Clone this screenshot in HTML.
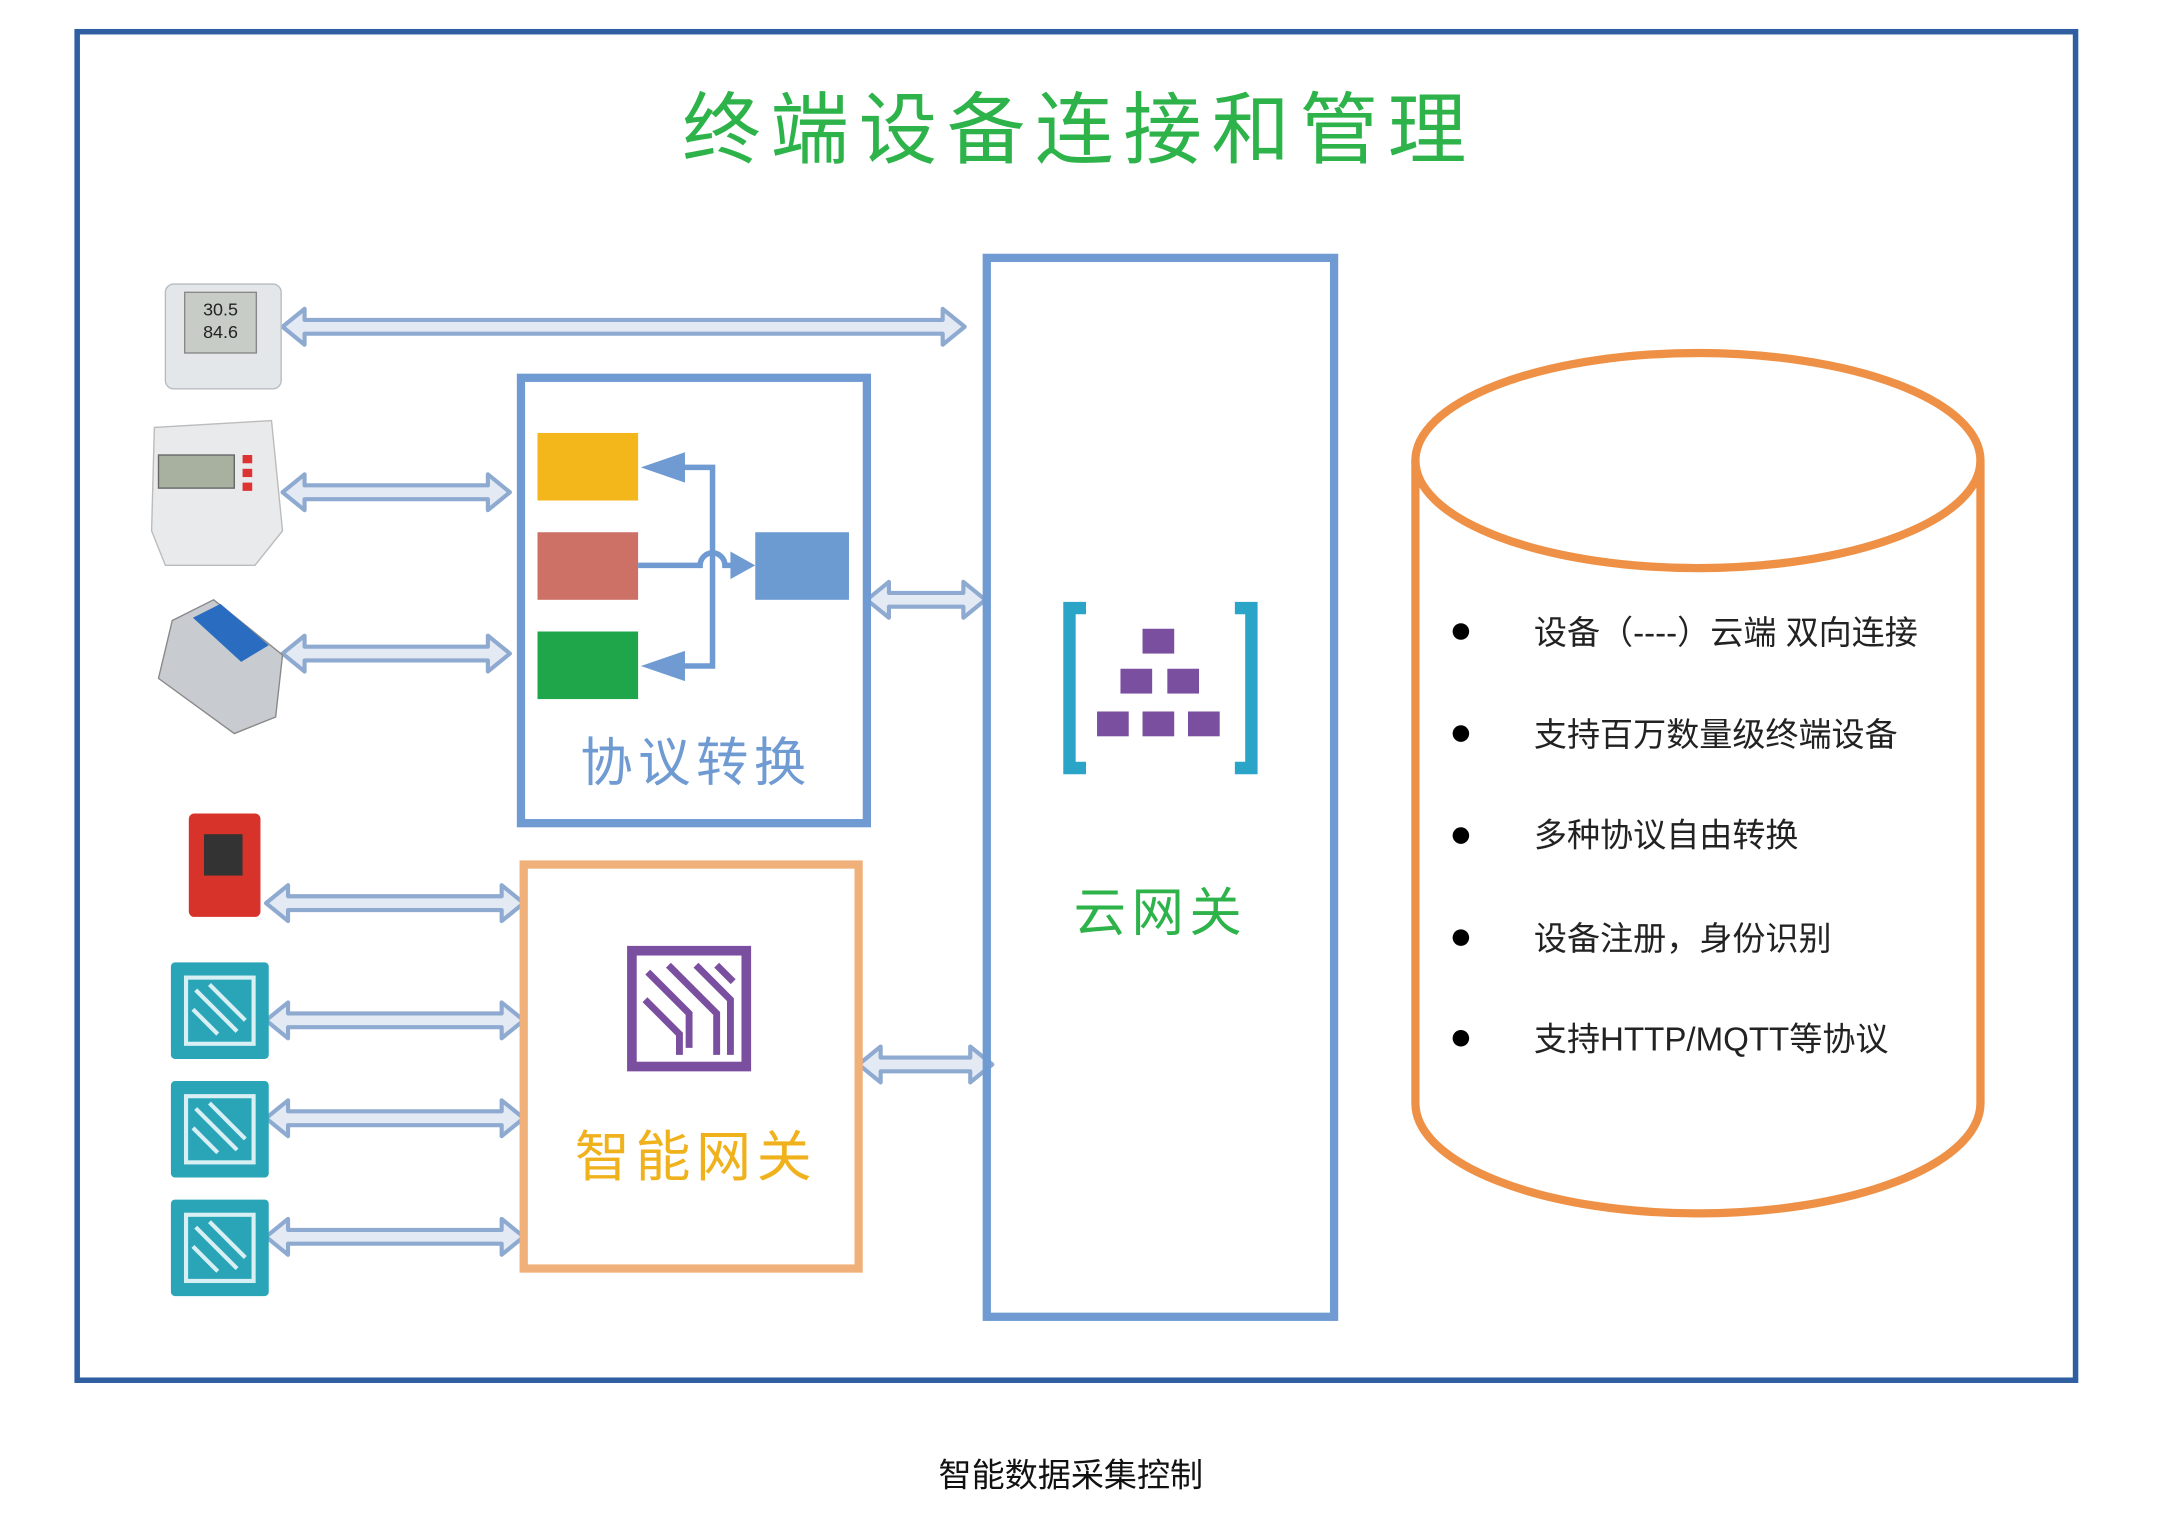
<!DOCTYPE html>
<html><head><meta charset="utf-8"><style>html,body{margin:0;padding:0;background:#fff}svg{display:block}</style></head>
<body>
<svg width="2161" height="1525" viewBox="0 0 1568 1106" preserveAspectRatio="none" xmlns="http://www.w3.org/2000/svg" font-family="Liberation Sans, Noto Sans CJK SC, sans-serif">
<rect x="0" y="0" width="1568" height="1106" fill="#fff"/>
<rect x="56" y="23" width="1450" height="978" fill="none" stroke="#2f5fa0" stroke-width="4"/>
<text x="783" y="114" text-anchor="middle" font-size="57" fill="#2db34a" letter-spacing="7" font-family="Noto Sans CJK SC, sans-serif">终端设备连接和管理</text>

<g fill="#e3eaf4" stroke="#8eaad0" stroke-width="3" stroke-linejoin="round">
<path d="M205,237 l16,-13 v8 h463 v-8 l16,13 l-16,13 v-8 h-463 v8 z"/>
<path d="M205,357 l16,-13 v8 h133 v-8 l16,13 l-16,13 v-8 h-133 v8 z"/>
<path d="M205,474 l16,-13 v8 h133 v-8 l16,13 l-16,13 v-8 h-133 v8 z"/>
<path d="M193,655 l16,-13 v8 h155 v-8 l16,13 l-16,13 v-8 h-155 v8 z"/>
<path d="M193,740 l16,-13 v8 h155 v-8 l16,13 l-16,13 v-8 h-155 v8 z"/>
<path d="M193,811 l16,-13 v8 h155 v-8 l16,13 l-16,13 v-8 h-155 v8 z"/>
<path d="M193,897 l16,-13 v8 h155 v-8 l16,13 l-16,13 v-8 h-155 v8 z"/>
<path d="M629,435 l16,-13 v8 h54 v-8 l16,13 l-16,13 v-8 h-54 v8 z"/>
<path d="M623,772 l16,-13 v8 h65 v-8 l16,13 l-16,13 v-8 h-65 v8 z"/>
</g>

<rect x="716" y="187" width="252" height="768" fill="none" stroke="#6f9bd2" stroke-width="6"/>
<path d="M788,441 h-12 v116 h12" fill="none" stroke="#2aa5c8" stroke-width="9"/>
<path d="M896,441 h12 v116 h-12" fill="none" stroke="#2aa5c8" stroke-width="9"/>
<g fill="#7b4fa0">
<rect x="829" y="456" width="23" height="18"/>
<rect x="813" y="485" width="23" height="18"/><rect x="847" y="485" width="23" height="18"/>
<rect x="796" y="516" width="23" height="18"/><rect x="829" y="516" width="23" height="18"/><rect x="862" y="516" width="23" height="18"/>
</g>
<text x="842" y="675" text-anchor="middle" font-size="38" fill="#2db34a" letter-spacing="4" font-family="Noto Sans CJK SC, sans-serif">云网关</text>

<rect x="378" y="274" width="251" height="323" fill="none" stroke="#6f9bd2" stroke-width="6"/>
<rect x="390" y="314" width="73" height="49" fill="#f3b61b"/>
<rect x="390" y="386" width="73" height="49" fill="#cd7065"/>
<rect x="390" y="458" width="73" height="49" fill="#1fa64a"/>
<rect x="548" y="386" width="68" height="49" fill="#6b9bd1"/>
<g stroke="#6f9bd2" stroke-width="4" fill="none">
<path d="M463,410 H508 a9,9 0 0 1 18,0 H532"/>
<path d="M490,339 H517 V483 H490"/>
</g>
<g fill="#6f9bd2">
<path d="M548,410 l-18,-10 v20 z"/>
<path d="M465,339 l32,-11 v22 z"/>
<path d="M465,483 l32,-11 v22 z"/>
</g>
<text x="505" y="566" text-anchor="middle" font-size="38" fill="#6f9bd2" letter-spacing="4" font-family="Noto Sans CJK SC, sans-serif">协议转换</text>

<rect x="380" y="627" width="243" height="293" fill="none" stroke="#f0b07a" stroke-width="6"/>
<rect x="455" y="686" width="90" height="91" fill="#7b4fa0"/>
<rect x="462" y="693" width="76" height="77" fill="#fff"/>
<g stroke="#7b4fa0" stroke-width="5" fill="none">
<path d="M470,705 l30,30 v25"/><path d="M485,700 l35,35 v30"/><path d="M468,725 l25,25 v15"/><path d="M505,700 l25,25 v40"/><path d="M520,700 l12,12"/>
</g>
<text x="505" y="853" text-anchor="middle" font-size="40" fill="#f0b21c" letter-spacing="4" font-family="Noto Sans CJK SC, sans-serif">智能网关</text>

<path d="M1027,334 V800 A205,80 0 0 0 1437,800 V334" fill="none" stroke="#ee9146" stroke-width="6"/>
<ellipse cx="1232" cy="334" rx="205" ry="78" fill="none" stroke="#ee9146" stroke-width="6"/>
<g font-size="24" fill="#222" font-family="Liberation Sans, Noto Sans CJK SC, sans-serif">
<circle cx="1060" cy="458" r="6" fill="#000"/><text x="1113" y="467">设备（----）云端  双向连接</text>
<circle cx="1060" cy="532" r="6" fill="#000"/><text x="1113" y="541">支持百万数量级终端设备</text>
<circle cx="1060" cy="606" r="6" fill="#000"/><text x="1113" y="614">多种协议自由转换</text>
<circle cx="1060" cy="680" r="6" fill="#000"/><text x="1113" y="689">设备注册，身份识别</text>
<circle cx="1060" cy="753" r="6" fill="#000"/><text x="1113" y="762">支持HTTP/MQTT等协议</text>
</g>

<rect x="120" y="206" width="84" height="76" rx="6" fill="#e4e7ea" stroke="#b8bcc0"/>
<rect x="134" y="212" width="52" height="44" fill="#c7cdc6" stroke="#888"/>
<text x="160" y="229" text-anchor="middle" font-size="13" fill="#222">30.5</text>
<text x="160" y="245" text-anchor="middle" font-size="13" fill="#222">84.6</text>
<path d="M112,310 l85,-5 l8,80 l-20,25 h-65 l-10,-25 z" fill="#e8eaec" stroke="#bbb"/>
<rect x="115" y="330" width="55" height="24" fill="#a8b0a0" stroke="#666"/>
<rect x="176" y="330" width="7" height="6" fill="#d33"/><rect x="176" y="340" width="7" height="6" fill="#d33"/><rect x="176" y="350" width="7" height="6" fill="#d33"/>
<path d="M125,450 l30,-15 l50,40 l-5,45 l-30,12 l-55,-40 z" fill="#c8ccd0" stroke="#888"/>
<path d="M140,448 l20,-10 l35,30 l-20,12 z" fill="#2a6cc0"/>
<rect x="137" y="590" width="52" height="75" rx="4" fill="#d8332a"/>
<rect x="148" y="605" width="28" height="30" fill="#333"/>
<g fill="#2aa5b8">
<rect x="124" y="698" width="71" height="70" rx="3"/><rect x="124" y="784" width="71" height="70" rx="3"/><rect x="124" y="870" width="71" height="70" rx="3"/>
</g>
<g fill="none" stroke="#d8f0f4" stroke-width="3">
<rect x="135" y="709" width="49" height="48"/><rect x="135" y="795" width="49" height="48"/><rect x="135" y="881" width="49" height="48"/>
<path d="M142,718 l30,30 M152,714 l26,26 M140,732 l18,18"/>
<path d="M142,804 l30,30 M152,800 l26,26 M140,818 l18,18"/>
<path d="M142,890 l30,30 M152,886 l26,26 M140,904 l18,18"/>
</g>

<text x="777" y="1078" text-anchor="middle" font-size="24" fill="#111" font-family="Noto Sans CJK SC, sans-serif">智能数据采集控制</text>
</svg>
</body></html>
